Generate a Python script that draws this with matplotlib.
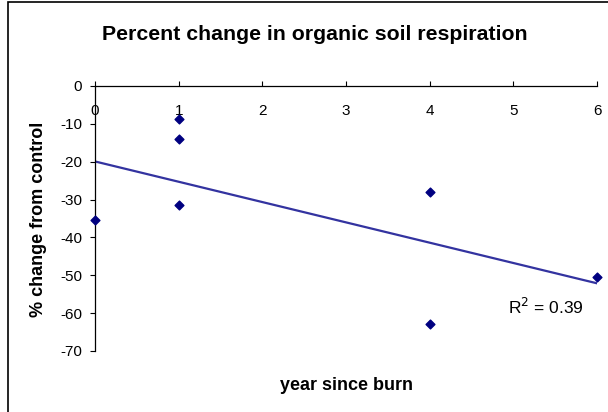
import numpy as np
import matplotlib.pyplot as plt
from matplotlib.patches import Rectangle

plt.rcParams['font.family'] = ['Liberation Sans', 'DejaVu Sans']
plt.rcParams['axes.unicode_minus'] = False

years = [0, 1, 1, 1, 4, 4, 6]
pct_change = [-35.4, -8.6, -14.0, -31.5, -27.9, -62.9, -50.4]
xticks = [0, 1, 2, 3, 4, 5, 6]
yticks = [0, -10, -20, -30, -40, -50, -60, -70]

fig = plt.figure(figsize=(6.08, 4.12), dpi=100)
# outer chart frame (cut off at right/bottom like the reference)
fig.patches.append(Rectangle((8 / 608, -0.05), 1.2, 1.05 - 2 / 412,
                             transform=fig.transFigure, fill=False,
                             edgecolor='black', linewidth=1.2))

ax = fig.add_axes([95 / 608, 1 - 351 / 412, (597 - 95) / 608, (351 - 86) / 412])
ax.set_xlim(0, 6)
ax.set_ylim(-70, 0)

ax.scatter(years, pct_change, marker='D', s=20, color='#000080', zorder=3, clip_on=False)

slope, icpt = np.polyfit(years, pct_change, 1)
fit = np.polyval([slope, icpt], years)
r2 = 1 - np.sum((np.array(pct_change) - fit) ** 2) / np.sum((np.array(pct_change) - np.mean(pct_change)) ** 2)
xs = np.array([0, 6])
ax.plot(xs, slope * xs + icpt, color='#3333a0', linewidth=1.6, zorder=2)

ax.text(4.94, -58.3, 'R$^2$ = %.2f' % r2, fontsize=12.5, va='center', ha='left')

for s in ['right', 'bottom']:
    ax.spines[s].set_visible(False)
for s in ['left', 'top']:
    ax.spines[s].set_linewidth(0.9)

ax.xaxis.tick_top()
ax.set_xticks(xticks)
ax.set_yticks(yticks)
ax.tick_params(axis='x', direction='out', length=3.6, pad=-27, labelsize=11)
ax.tick_params(axis='y', direction='out', length=3.6, pad=5.5, labelsize=11)

fig.text(315 / 608, 1 - 40 / 412, 'Percent change in organic soil respiration',
         ha='center', va='baseline', fontsize=15.3, fontweight='bold')
fig.text(346 / 608, 1 - 390 / 412, 'year since burn',
         ha='center', va='baseline', fontsize=13, fontweight='bold')
fig.text(38.5 / 608, 1 - 219 / 412, '% change from control', rotation=90,
         ha='center', va='center', fontsize=13, fontweight='bold')

fig.savefig('out.png', dpi=100)
